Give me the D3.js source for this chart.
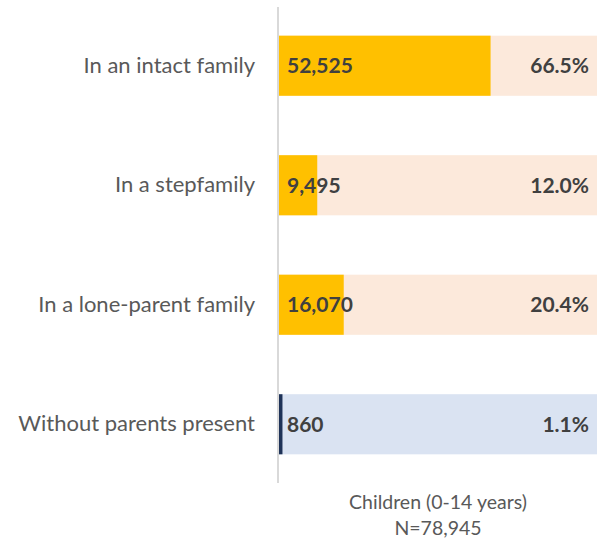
<!DOCTYPE html>
<html>
<head>
<meta charset="utf-8">
<script src="https://cdn.jsdelivr.net/npm/d3@7"></script>
<style>
  html, body { margin: 0; padding: 0; background: #ffffff; }
  svg { display: block; font-family: Lato, "Open Sans", sans-serif; }
</style>
</head>
<body>
<div id="chart"></div>
<script>
// Living arrangements of children aged 0-14
const categories = ["In an intact family", "In a stepfamily", "In a lone-parent family", "Without parents present"];
const counts = [52525, 9495, 16070, 860];
const percents = ["66.5%", "12.0%", "20.4%", "1.1%"];
const total = 78945;
const footerLines = ["Children (0-14 years)", "N=78,945"];

const fillColors = ["#FFC000", "#FFC000", "#FFC000", "#1F3358"];
const trackColors = ["#FCE9DB", "#FCE9DB", "#FCE9DB", "#DAE3F2"];

const width = 597, height = 540;
const plotLeft = 279, plotRight = 597, plotTop = 7, plotBottom = 483;

const svg = d3.select("#chart").append("svg")
  .attr("width", width).attr("height", height);

const x = d3.scaleLinear().domain([0, total]).range([plotLeft, plotRight]);
const y = d3.scaleBand().domain(categories).range([plotTop, plotBottom])
  .paddingInner(0.497).paddingOuter(0.24);

const rows = svg.append("g").selectAll("g")
  .data(categories.map((c, i) => ({ c, i })))
  .join("g");

// full-width track for each category
rows.append("rect")
  .attr("x", x(0)).attr("y", d => y(d.c))
  .attr("width", x(total) - x(0)).attr("height", y.bandwidth())
  .attr("fill", d => trackColors[d.i]);

// value bar
rows.append("rect")
  .attr("x", x(0)).attr("y", d => y(d.c))
  .attr("width", d => x(counts[d.i]) - x(0)).attr("height", y.bandwidth())
  .attr("fill", d => fillColors[d.i]);

// count label
rows.append("text")
  .attr("x", x(0) + 8).attr("y", d => y(d.c) + y.bandwidth() / 2)
  .attr("dy", "0.36em")
  .attr("font-size", 21).attr("font-weight", 700).attr("fill", "#404040")
  .text(d => d3.format(",")(counts[d.i]));

// share label
rows.append("text")
  .attr("x", x(total) - 8).attr("y", d => y(d.c) + y.bandwidth() / 2)
  .attr("dy", "0.36em").attr("text-anchor", "end")
  .attr("font-size", 21).attr("font-weight", 700).attr("fill", "#404040")
  .text(d => percents[d.i]);

// category axis
const axis = svg.append("g")
  .attr("transform", `translate(${plotLeft - 1},0)`)
  .call(d3.axisLeft(y).tickSize(0).tickPadding(23));
axis.select(".domain").attr("stroke", "#D9D9D9").attr("stroke-width", 2)
  .attr("d", `M0,${plotTop}V${plotBottom}`);
axis.selectAll("text")
  .attr("font-family", "Lato, 'Open Sans', sans-serif")
  .attr("font-size", 22).attr("fill", "#595959");

// footer
svg.append("g").selectAll("text")
  .data(footerLines)
  .join("text")
  .attr("x", (plotLeft + plotRight) / 2)
  .attr("y", (d, i) => 509 + i * 26)
  .attr("text-anchor", "middle")
  .attr("font-size", 19.5).attr("fill", "#595959")
  .text(d => d);
</script>
</body>
</html>
